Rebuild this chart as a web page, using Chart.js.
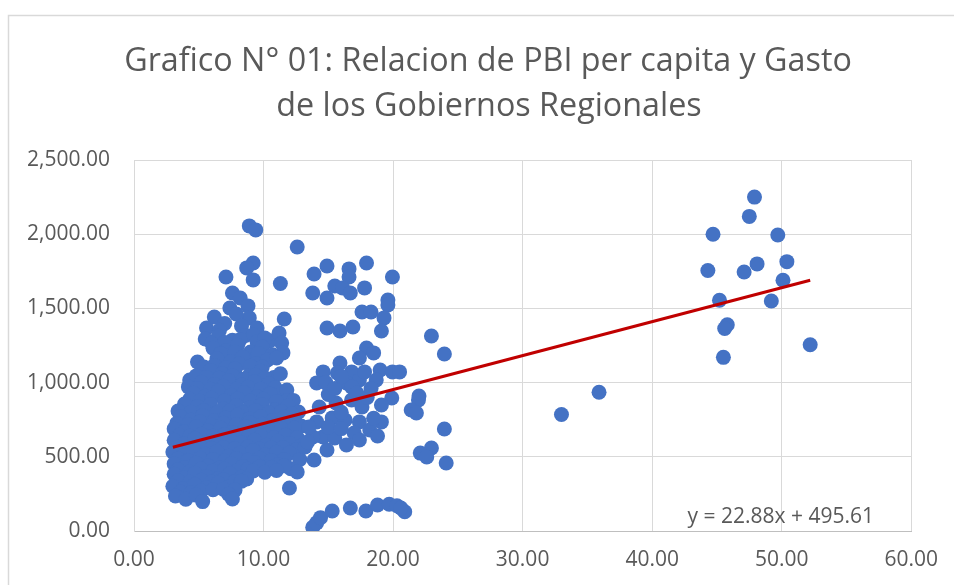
<!DOCTYPE html>
<html>
<head>
<meta charset="utf-8">
<title>Grafico N° 01</title>
<script src="https://cdn.jsdelivr.net/npm/chart.js@4.4.1/dist/chart.umd.min.js"></script>
<style>
  html, body { margin: 0; padding: 0; background: #fff; }
  #wrap { position: relative; width: 954px; height: 585px; overflow: hidden; }
  canvas { display: block; }
</style>
</head>
<body>
<div id="wrap"><canvas id="chart" width="954" height="585"></canvas></div>
<script>
// Data: [PBI per capita, Gasto]
const grupoPrincipal = [
  [8.9, 2056], [9.4, 2029], [9.2, 1806], [8.7, 1773], [7.1, 1712], [9.2, 1692], [11.3, 1668],
  [7.6, 1604], [8.2, 1570], [8.8, 1517], [7.4, 1503], [6.2, 1442], [8.9, 1436], [7.9, 1462],
  [11.6, 1429], [5.6, 1368], [7.0, 1398], [8.3, 1382], [9.5, 1368], [6.6, 1352],
  [5.5, 1294], [6.5, 1312], [7.6, 1286], [8.6, 1318], [9.2, 1321], [10.5, 1282], [11.2, 1334], [11.4, 1267],
  [6.0, 1265], [7.0, 1270], [8.2, 1290], [9.5, 1275], [10.1, 1300],
  [6.1, 1232], [7.1, 1214], [8.0, 1252], [9.0, 1206], [9.9, 1240], [10.7, 1188], [11.5, 1200],
  [6.7, 1195], [7.8, 1205], [8.8, 1185], [9.6, 1195],
  [4.9, 1139], [6.4, 1161], [7.5, 1142], [8.4, 1172], [9.4, 1128], [10.3, 1152], [11.0, 1166],
  [5.4, 1105], [6.2, 1115], [7.1, 1100], [8.1, 1125], [9.0, 1110], [9.9, 1105],
  [4.3, 1018], [5.9, 1082], [6.8, 1058], [7.8, 1092], [8.9, 1048], [9.8, 1076], [10.8, 1034],
  [4.8, 1045], [5.6, 1035], [6.6, 1030], [7.6, 1045], [8.5, 1025], [9.4, 1050], [10.1, 1030], [11.3, 1060],
  [4.2, 971], [5.2, 1002], [6.2, 988], [7.3, 1012], [8.3, 984], [9.3, 1006], [10.4, 992], [11.2, 930],
  [4.9, 960], [5.9, 955], [6.9, 975], [7.9, 955], [8.8, 968], [9.8, 955], [10.9, 965], [11.8, 950],
  [4.6, 928], [5.5, 908], [6.5, 942], [7.5, 914], [8.5, 932], [9.5, 904], [10.5, 924], [11.8, 878],
  [4.3, 888], [5.1, 875], [6.0, 895], [7.0, 878], [8.0, 890], [9.0, 876], [10.0, 888], [11.0, 872], [12.3, 880],
  [3.9, 856], [4.9, 838], [5.9, 852], [6.9, 824], [7.9, 846], [8.9, 828], [9.9, 852], [10.9, 818], [11.9, 842], [12.7, 802],
  [3.4, 808], [4.4, 800], [5.4, 812], [6.4, 795], [7.4, 808], [8.4, 798], [9.4, 812], [10.4, 796], [11.4, 805], [12.2, 790],
  [3.6, 772], [4.4, 748], [5.3, 776], [6.2, 744], [7.1, 762], [8.0, 782], [8.9, 754], [9.8, 770], [10.7, 744], [11.6, 766], [12.4, 742],
  [3.3, 725], [4.2, 716], [5.1, 735], [6.0, 712], [6.9, 726], [7.9, 718], [8.9, 730], [9.9, 720], [10.9, 712], [11.9, 722], [12.9, 708],
  [3.1, 688], [3.9, 668], [4.8, 702], [5.7, 674], [6.7, 692], [7.6, 664], [8.6, 702], [9.5, 678], [10.5, 658], [11.4, 690], [12.4, 694],
  [3.5, 645], [4.3, 638], [5.2, 652], [6.1, 640], [7.0, 650], [8.0, 636], [8.9, 652], [9.8, 640], [10.8, 628], [11.7, 645], [12.6, 630],
  [3.1, 612], [3.9, 588], [4.7, 622], [5.6, 598], [6.5, 584], [7.4, 616], [8.3, 594], [9.3, 612], [10.2, 578], [11.1, 604], [12.0, 590], [12.9, 572],
  [3.4, 565], [4.3, 558], [5.1, 570], [6.0, 555], [6.9, 562], [7.8, 556], [8.8, 568], [9.7, 552], [10.6, 560], [11.5, 562], [12.5, 545],
  [3.0, 532], [3.8, 508], [4.6, 542], [5.5, 518], [6.4, 536], [7.3, 504], [8.2, 524], [9.2, 542], [10.1, 512], [11.0, 530], [12.0, 526], [12.8, 482],
  [3.4, 486], [4.2, 474], [5.1, 490], [6.1, 482], [7.0, 472], [7.9, 488], [8.8, 478], [9.7, 490], [10.6, 474], [11.6, 482],
  [3.1, 452], [3.9, 428], [4.8, 456], [5.7, 438], [6.6, 424], [7.5, 452], [8.4, 434], [9.3, 462], [10.2, 430], [11.1, 446], [12.1, 420], [12.6, 398],
  [3.4, 412], [4.3, 398], [5.2, 418], [6.1, 404], [7.0, 416], [7.9, 402], [8.8, 418], [9.7, 432], [10.6, 428], [11.6, 440],
  [3.1, 382], [3.9, 358], [4.7, 388], [5.6, 368], [6.5, 354], [7.4, 386], [8.3, 362], [9.2, 404], [10.1, 396], [11.0, 408], [12.0, 290],
  [3.4, 338], [4.3, 328], [5.2, 342], [6.0, 330], [6.9, 346], [7.8, 334], [8.7, 350],
  [3.0, 302], [3.8, 284], [4.7, 312], [5.6, 292], [6.5, 322], [7.4, 300], [8.3, 336],
  [3.6, 262], [4.4, 258], [5.2, 270], [6.1, 278], [6.9, 282], [7.8, 276],
  [3.2, 236], [4.0, 214], [4.8, 242], [5.3, 198], [7.3, 248], [7.6, 216]
];

const grupoMedio = [
  [12.6, 1914], [14.9, 1786], [13.9, 1732], [16.6, 1766], [16.6, 1712], [17.95, 1806], [19.95, 1712],
  [13.8, 1604], [14.9, 1570], [15.5, 1651], [16.1, 1638], [16.7, 1604], [17.8, 1638], [19.6, 1557],
  [19.6, 1523], [17.6, 1476], [18.3, 1476], [19.3, 1436], [19.1, 1348], [14.9, 1368], [15.9, 1348],
  [16.9, 1375], [17.95, 1233], [18.5, 1200], [17.4, 1166], [15.9, 1132], [14.6, 1072], [14.1, 998],
  [15.7, 1065], [16.8, 1072], [17.4, 1018], [16.4, 998], [17.8, 1072], [19.0, 1085], [19.95, 1072],
  [16.8, 971], [18.7, 1018], [19.9, 896], [19.1, 849], [14.3, 836], [15.6, 863], [16.8, 883],
  [17.6, 836], [14.1, 735], [15.3, 762], [16.3, 748], [17.4, 735], [19.1, 735], [18.2, 681],
  [17.0, 660], [14.6, 634], [15.5, 627], [16.4, 580], [17.4, 613], [13.8, 634], [13.2, 566],
  [13.9, 478], [14.9, 546], [15.0, 920], [14.8, 1000],
  [15.0, 700], [16.0, 690], [18.5, 760], [18.0, 900], [15.5, 960], [17.2, 930], [18.3, 960],
  [16.0, 800], [13.5, 700], [18.8, 640], [16.0, 1040], [13.4, 600],
  [22.96, 1314], [23.96, 1193], [20.5, 1072], [22.0, 910], [21.96, 883], [21.4, 815], [21.8, 795],
  [23.96, 687], [22.96, 559], [22.1, 525], [22.6, 499], [24.1, 458]
];

const grupoBajo = [
  [13.8, 25], [14.1, 55], [14.4, 90], [15.3, 135], [16.7, 155], [17.9, 135],
  [18.8, 175], [19.7, 180], [20.3, 170], [20.9, 130], [20.6, 155]
];

const grupoAlto = [
  [33.0, 785], [35.9, 935], [47.9, 2250], [47.5, 2120], [44.7, 2000], [49.7, 1995],
  [44.3, 1755], [47.1, 1745], [48.1, 1800], [50.4, 1815], [50.1, 1690], [45.2, 1555],
  [49.2, 1550], [45.8, 1390], [45.6, 1365], [52.2, 1255], [45.5, 1170]
];

// Linear trend shown on the chart
const pendiente = 22.88;
const intercepto = 495.61;

const xTicks = [0, 10, 20, 30, 40, 50, 60];
const yTicks = [0, 500, 1000, 1500, 2000, 2500];

const tituloLineas = ['Grafico N° 01: Relacion de PBI per capita y Gasto', 'de los Gobiernos Regionales'];

const FONT = "'Open Sans', 'Liberation Sans', sans-serif";
const GRIS_TEXTO = '#595959';

const puntos = [...grupoPrincipal, ...grupoMedio, ...grupoBajo, ...grupoAlto].map(p => ({ x: p[0], y: p[1] }));
const xs = puntos.map(p => p.x);
const xMin = Math.min(...xs);
const xMax = Math.max(...xs);
const tendencia = [
  { x: xMin, y: pendiente * xMin + intercepto },
  { x: xMax, y: pendiente * xMax + intercepto }
];

const fmt = v => Number(v).toLocaleString('en-US', { minimumFractionDigits: 2, maximumFractionDigits: 2 });

// Frame, title and equation label
const decor = {
  id: 'decor',
  beforeDraw(chart) {
    const ctx = chart.ctx;
    ctx.save();
    ctx.fillStyle = '#fff';
    ctx.fillRect(0, 0, chart.width, chart.height);
    ctx.strokeStyle = '#d9d9d9';
    ctx.lineWidth = 1.5;
    ctx.strokeRect(8.5, 15.5, 1200, 1200);
    ctx.restore();
  },
  afterDraw(chart) {
    const ctx = chart.ctx;
    ctx.save();
    ctx.fillStyle = GRIS_TEXTO;
    ctx.textAlign = 'center';
    ctx.textBaseline = 'alphabetic';
    ctx.font = `32.3px ${FONT}`;
    ctx.fillText(tituloLineas[0], 488, 71);
    ctx.fillText(tituloLineas[1], 489, 116);

    ctx.font = `21px ${FONT}`;
    ctx.textAlign = 'right';
    ctx.fillText(`y = ${pendiente.toFixed(2)}x + ${intercepto.toFixed(2)}`, 874, 523);
    ctx.restore();
  }
};

new Chart(document.getElementById('chart'), {
  type: 'scatter',
  data: {
    datasets: [
      {
        label: 'Lineal',
        data: tendencia,
        showLine: true,
        borderColor: '#C00000',
        borderWidth: 3,
        pointRadius: 0,
        fill: false
      },
      {
        label: 'Gasto',
        data: puntos,
        backgroundColor: '#4472C4',
        borderWidth: 0,
        pointRadius: 7.5,
        pointHoverRadius: 7.5
      }
    ]
  },
  options: {
    responsive: false,
    animation: false,
    devicePixelRatio: 1,
    layout: { padding: { top: 160, right: 42, bottom: 0, left: 0 } },
    plugins: {
      legend: { display: false },
      tooltip: { enabled: false },
      title: { display: false }
    },
    scales: {
      x: {
        type: 'linear',
        min: 0,
        max: 60,
        afterBuildTicks: s => { s.ticks = xTicks.map(v => ({ value: v })); },
        afterFit: s => { s.height = 54; },
        grid: { color: '#d9d9d9', lineWidth: 1, drawTicks: false },
        border: { color: '#bfbfbf', width: 1 },
        ticks: {
          padding: 16,
          color: GRIS_TEXTO,
          font: { family: FONT, size: 21 },
          callback: v => fmt(v),
          maxRotation: 0
        }
      },
      y: {
        type: 'linear',
        min: 0,
        max: 2500,
        afterBuildTicks: s => { s.ticks = yTicks.map(v => ({ value: v })); },
        afterFit: s => { s.width = 134; },
        grid: { color: '#d9d9d9', lineWidth: 1, drawTicks: false },
        border: { color: '#d9d9d9', width: 1 },
        ticks: {
          padding: 24,
          color: GRIS_TEXTO,
          font: { family: FONT, size: 21 },
          callback: v => fmt(v)
        }
      }
    }
  },
  plugins: [decor]
});
</script>
</body>
</html>
